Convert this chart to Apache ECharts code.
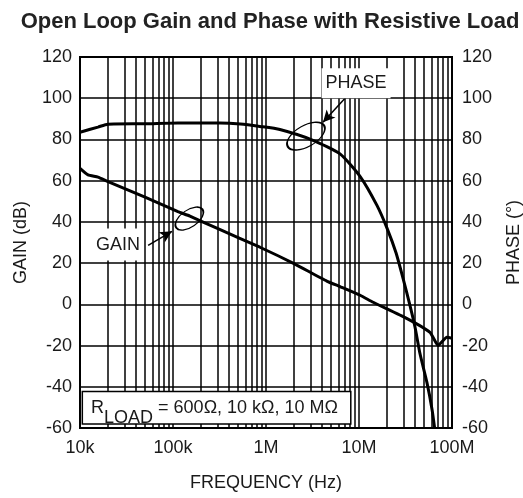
<!DOCTYPE html>
<html><head><meta charset="utf-8">
<script src="https://cdn.jsdelivr.net/npm/echarts@6/dist/echarts.min.js"></script>
<style>html,body{margin:0;padding:0;background:#fff}#c{width:523px;height:498px}</style>
</head><body><div id="c"></div>
<script>
const titleText = 'Open Loop Gain and Phase with Resistive Load';
const xName = 'FREQUENCY (Hz)';
const leftName = 'GAIN (dB)';
const rightName = 'PHASE (°)';
const tickExponents = [4, 5, 6, 7, 8];
const tickLabels = ['10k', '100k', '1M', '10M', '100M'];
const yMin = -60, yMax = 120, yStep = 20;

const gainFreq = [1e4, 1.22e4, 1.56e4, 2e4, 5e4, 1.13e5, 1.52e5, 3e5, 8.6e5, 1.95e6, 4.5e6, 6.25e6, 1.03e7, 1.42e7, 3.25e7, 5.8e7, 7.1e7, 8.8e7, 1e8];
const gainDb   = [66, 62.8, 61.7, 59.5, 52, 45, 42.8, 36.8, 27.7, 20, 11.3, 8.6, 4.4, 1, -6.8, -13.6, -20, -16, -16.5];

const phaseFreq = [1e4, 1.56e4, 2e4, 5e4, 1.13e5, 3.2e5, 5.3e5, 8.6e5, 1.41e6, 3.2e6, 6.25e6, 1.03e7, 1.56e7, 2e7, 2.5e7, 3e7, 3.53e7, 4e7, 4.53e7, 5.38e7, 6.1e7, 6.5e7];
const phaseDeg  = [83.5, 86, 87.4, 87.6, 88, 88, 87.5, 86.3, 84.8, 79.6, 73, 62, 48, 37, 25, 12, -0.5, -11, -24, -38, -51, -60];

// annotation anchors (data coordinates: frequency, value)
const gainLabelAt = [2.56e4, 29];
const phaseLabelAt = [9.3e6, 107.3];
const loadLabelAt = [2.94e5, -50.2];
const gainArrow = [[5.4e4, 28.6], [9.76e4, 35.4]];
const phaseArrow = [[7.24e6, 100.5], [4.1e6, 88.3]];
const gainEllipseAt = [1.5e5, 41.6];
const phaseEllipseAt = [2.69e6, 81.6];

const FONT = "'Liberation Sans', Arial, Helvetica, sans-serif";
const TXT = '#1a1a1a';

// log grid lines: 1..9 x each decade inside the axis range
const gridFreqs = [];
for (let e = 4; e < 8; e++) {
  for (let m = 1; m <= 9; m++) {
    if (e === 4 && m === 1) continue;
    gridFreqs.push(m * Math.pow(10, e));
  }
}

const chart = echarts.init(document.getElementById('c'), null, {renderer: 'canvas'});
const yAxisBase = {
  type: 'value', min: yMin, max: yMax, interval: yStep,
  axisLine: {show: false}, axisTick: {show: false},
  nameLocation: 'middle', nameRotate: 90,
  nameTextStyle: {fontSize: 18, color: TXT, fontFamily: FONT},
  axisLabel: {fontSize: 18, color: TXT, fontFamily: FONT, margin: 8}
};
chart.setOption({
  animation: false,
  backgroundColor: '#fff',
  title: {
    text: titleText, left: 265, top: 6, textAlign: 'center',
    textStyle: {fontSize: 22, fontWeight: 'bold', color: '#222', fontFamily: FONT}
  },
  grid: {left: 80, right: 71, top: 57, bottom: 70, show: true, borderColor: '#000', borderWidth: 2,
         containLabel: false, outerBoundsMode: 'none'},
  xAxis: {
    type: 'log', logBase: 10, min: 1e4, max: 1e8,
    axisLine: {show: false}, axisTick: {show: false}, splitLine: {show: false},
    axisLabel: {
      fontSize: 18, color: TXT, fontFamily: FONT, margin: 11,
      formatter: v => {
        const i = tickExponents.indexOf(Math.round(Math.log10(v)));
        return i >= 0 ? tickLabels[i] : '';
      }
    },
    name: xName, nameLocation: 'middle', nameGap: 46,
    nameTextStyle: {fontSize: 18, color: TXT, fontFamily: FONT}
  },
  yAxis: [
    Object.assign({}, yAxisBase, {
      position: 'left', name: leftName, nameGap: 50,
      splitLine: {show: true, lineStyle: {color: '#000', width: 1.5}}
    }),
    Object.assign({}, yAxisBase, {
      position: 'right', name: rightName, nameGap: 53,
      splitLine: {show: false},
      axisLabel: Object.assign({}, yAxisBase.axisLabel, {margin: 10})
    })
  ],
  series: [
    {
      name: 'grid', type: 'line', data: [], z: 1, silent: true,
      markLine: {
        silent: true, symbol: ['none', 'none'], animation: false,
        label: {show: false},
        lineStyle: {color: '#000', width: 1.5, type: 'solid'},
        data: gridFreqs.map(f => ({xAxis: f}))
      }
    },
    {
      name: 'annot', type: 'line', data: [], z: 3, silent: true,
      markPoint: {
        silent: true, animation: false,
        data: [
          {coord: gainLabelAt, symbol: 'rect', symbolSize: 1, itemStyle: {color: 'rgba(0,0,0,0)'},
           label: {show: true, position: 'inside', formatter: 'GAIN', fontSize: 18, color: TXT, fontFamily: FONT,
                   backgroundColor: '#fff', padding: [7, 3]}},
          {coord: phaseLabelAt, symbol: 'rect', symbolSize: 1, itemStyle: {color: 'rgba(0,0,0,0)'},
           label: {show: true, position: 'inside', formatter: 'PHASE', fontSize: 18, color: TXT, fontFamily: FONT,
                   backgroundColor: '#fff', padding: [6, 4]}},
          {coord: loadLabelAt, symbol: 'rect', symbolSize: 1, itemStyle: {color: 'rgba(0,0,0,0)'},
           label: {show: true, position: 'inside', formatter: '{r|R}{s|LOAD}{t| = 600Ω, 10 kΩ, 10 MΩ}',
                   backgroundColor: '#fff', borderColor: '#000', borderWidth: 1.5, padding: [7, 12, 4, 8],
                   rich: {
                     r: {fontSize: 18, color: TXT, fontFamily: FONT, lineHeight: 20, verticalAlign: 'top'},
                     s: {fontSize: 18, color: TXT, fontFamily: FONT, lineHeight: 20, verticalAlign: 'top', padding: [10, 0, 0, 0]},
                     t: {fontSize: 18, color: TXT, fontFamily: FONT, lineHeight: 20, verticalAlign: 'top'}
                   }}},
          {coord: gainEllipseAt, symbol: 'circle', symbolSize: [32, 17], symbolRotate: 35,
           itemStyle: {color: 'rgba(0,0,0,0)', borderColor: '#000', borderWidth: 1.5}, label: {show: false}},
          {coord: phaseEllipseAt, symbol: 'circle', symbolSize: [42, 21], symbolRotate: 30,
           itemStyle: {color: 'rgba(0,0,0,0)', borderColor: '#000', borderWidth: 1.5}, label: {show: false}}
        ]
      },
      markLine: {
        silent: true, animation: false, symbol: ['none', 'arrow'], symbolSize: [9, 12],
        label: {show: false},
        lineStyle: {color: '#000', width: 1.5, type: 'solid'},
        data: [
          [{coord: gainArrow[0]}, {coord: gainArrow[1]}],
          [{coord: phaseArrow[0]}, {coord: phaseArrow[1]}]
        ]
      }
    },
    {
      name: 'Gain', type: 'line', yAxisIndex: 0, z: 5, showSymbol: false, smooth: 0.15,
      lineStyle: {color: '#000', width: 3},
      data: gainFreq.map((f, i) => [f, gainDb[i]])
    },
    {
      name: 'Phase', type: 'line', yAxisIndex: 1, z: 5, showSymbol: false, smooth: 0.2,
      lineStyle: {color: '#000', width: 3},
      data: phaseFreq.map((f, i) => [f, phaseDeg[i]])
    }
  ]
});
</script>
</body></html>
